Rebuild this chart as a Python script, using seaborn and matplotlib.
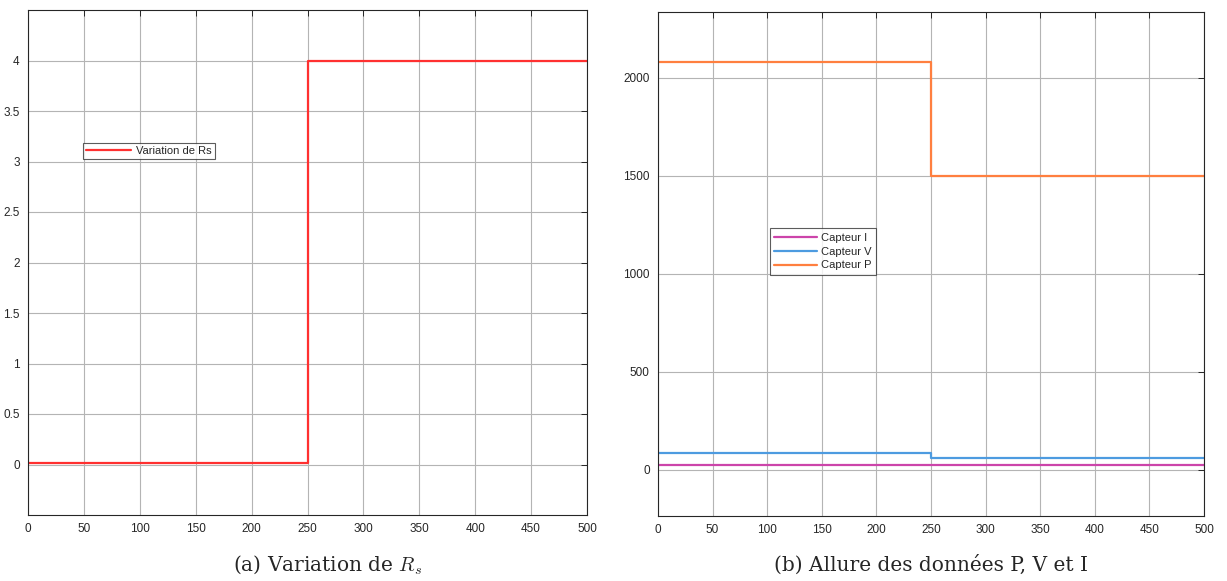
import numpy as np
import pandas as pd
import seaborn as sns
import matplotlib
matplotlib.use("Agg")
import matplotlib.pyplot as plt

# Data
t = [0, 250, 500]
rs = [0.01, 4.0, 4.0]
cap_i = [24, 24, 24]
cap_v = [84, 60, 60]
cap_p = [2080, 1500, 1500]

sns.set_theme(style="white")
plt.rcParams['font.family'] = ['Liberation Sans', 'DejaVu Sans']
plt.rcParams['mathtext.fontset'] = 'cm'

fig = plt.figure(figsize=(12.27, 5.81), dpi=100)
W, H = 1227, 581
ax1 = fig.add_axes([28 / W, 1 - 515 / H, (587 - 28) / W, (515 - 10) / H])
ax2 = fig.add_axes([658 / W, 1 - 516 / H, (1204 - 658) / W, (516 - 12) / H])

df1 = pd.DataFrame({"t": t, "v": rs})
sns.lineplot(data=df1, x="t", y="v", ax=ax1, color="#ff3030", lw=1.6,
             drawstyle="steps-post", label="Variation de Rs")

series = [("Capteur I", cap_i, "#cc44aa"),
          ("Capteur V", cap_v, "#4d9be0"),
          ("Capteur P", cap_p, "#ff7f3f")]
for name, vals, col in series:
    d = pd.DataFrame({"t": t, "v": vals})
    sns.lineplot(data=d, x="t", y="v", ax=ax2, color=col, lw=1.6,
                 drawstyle="steps-post", label=name)

ax1.set_xlim(0, 500)
ax1.set_ylim(-0.5, 4.5)
ax1.set_yticks([0, 0.5, 1, 1.5, 2, 2.5, 3, 3.5, 4])
ax1.set_yticklabels(["0", "0.5", "1", "1.5", "2", "2.5", "3", "3.5", "4"])
ax2.set_xlim(0, 500)
ax2.set_ylim(-235, 2335)
ax2.set_yticks([0, 500, 1000, 1500, 2000])

for ax in (ax1, ax2):
    ax.set_xticks(np.arange(0, 501, 50))
    ax.set_xlabel("")
    ax.set_ylabel("")
    ax.grid(True, color="#b4b4b4", lw=0.8)
    ax.set_axisbelow(True)
    ax.tick_params(direction="in", top=True, right=True, length=4, width=0.7,
                   labelsize=8.5, colors="#262626", pad=6)
    for s in ax.spines.values():
        s.set_color("#262626")
        s.set_linewidth(0.8)

leg1 = ax1.legend(loc="upper left", bbox_to_anchor=(0.098, 0.737), fontsize=8,
                  frameon=True, fancybox=False, borderpad=0.3, handlelength=4,
                  borderaxespad=0, handletextpad=0.5)
leg1.get_frame().set_edgecolor("#333333")
leg1.get_frame().set_linewidth(0.8)
leg2 = ax2.legend(loc="upper left", bbox_to_anchor=(0.205, 0.571), fontsize=8,
                  frameon=True, fancybox=False, borderpad=0.4, handlelength=3.8,
                  borderaxespad=0, handletextpad=0.4, labelspacing=0.35)
leg2.get_frame().set_edgecolor("#333333")
leg2.get_frame().set_linewidth(0.8)

fig.text(328 / W, 1 - 565 / H, r"(a) Variation de $R_s$", ha="center", va="center",
         fontsize=14.5, family=["DejaVu Serif"])
fig.text(931 / W, 1 - 565 / H, "(b) Allure des données P, V et I", ha="center",
         va="center", fontsize=14.5, family=["DejaVu Serif"])

fig.savefig("out.png", dpi=100)
